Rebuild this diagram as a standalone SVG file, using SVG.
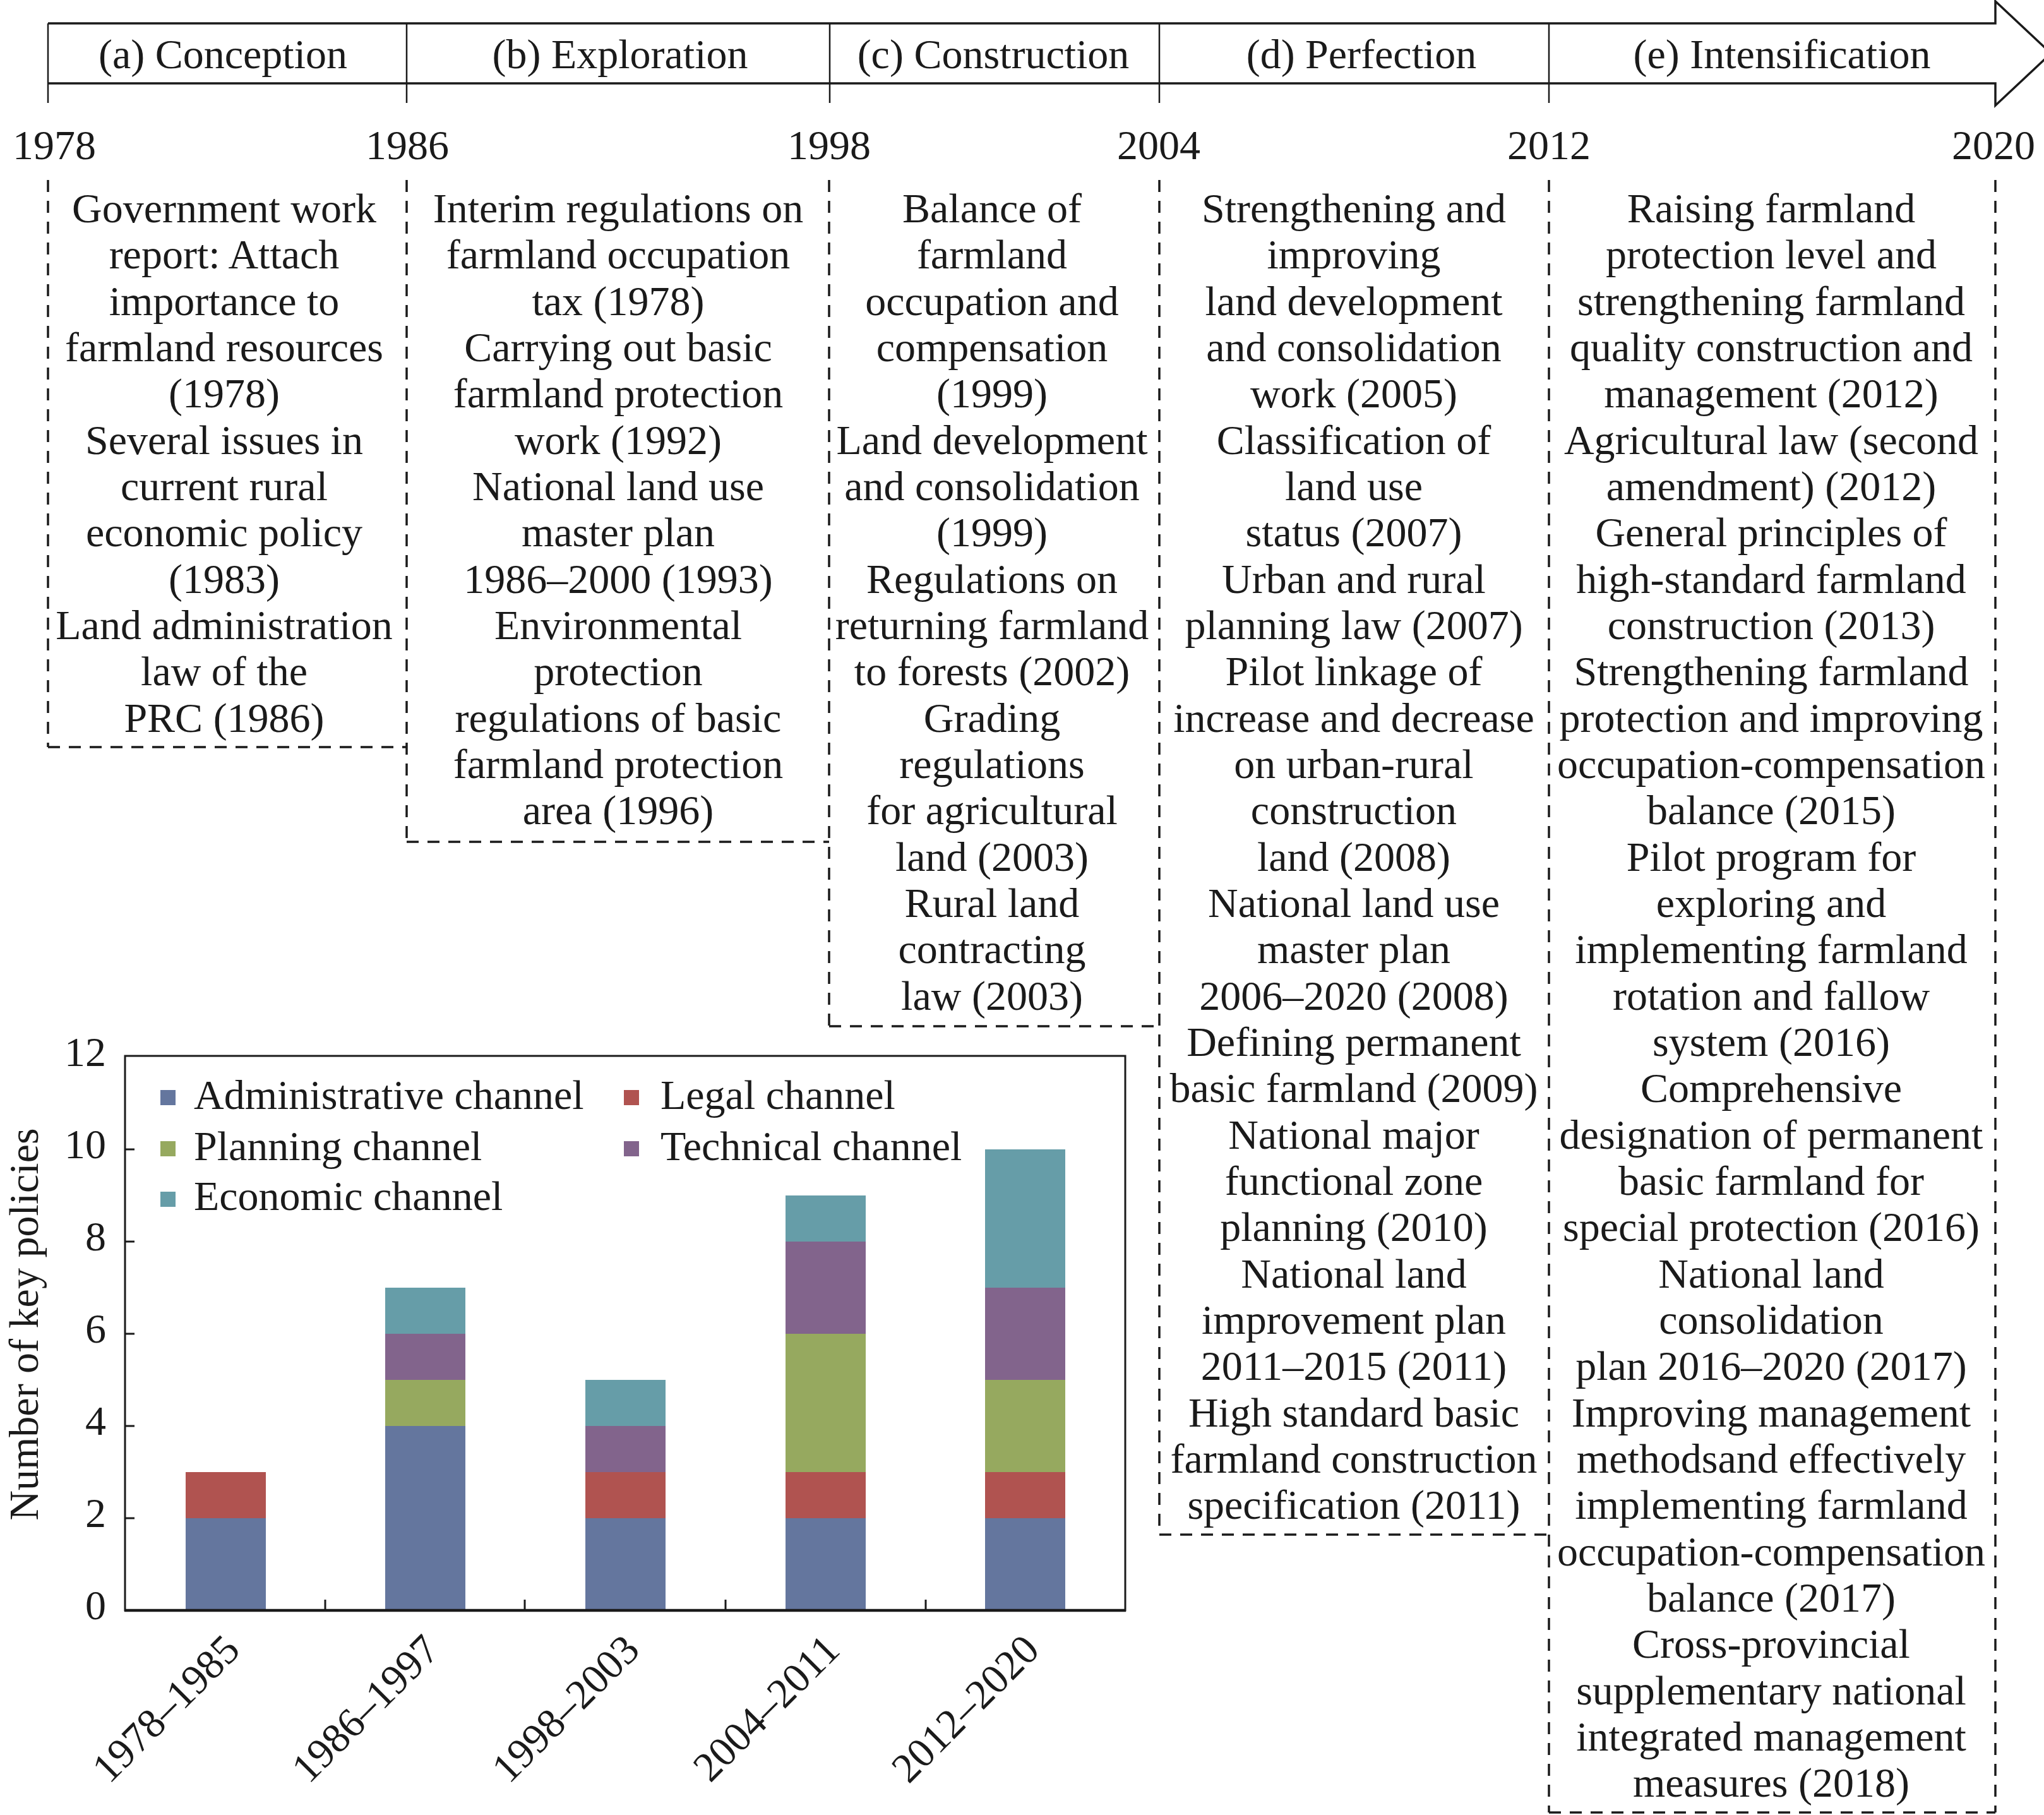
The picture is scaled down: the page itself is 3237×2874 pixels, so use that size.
<svg xmlns="http://www.w3.org/2000/svg" width="3237" height="2874" viewBox="0 0 3237 2874">
<style>
text{font-family:"Liberation Serif","Times New Roman",serif;fill:#1a1a1a}
.t{font-size:66px;text-anchor:middle}
.yl{font-size:66px;text-anchor:end}
.lg{font-size:66px}
.dash{stroke:#1a1a1a;stroke-width:3.5;stroke-dasharray:19 14;fill:none}
.ln{stroke:#1a1a1a;fill:none}
.adm{fill:#64769e}.leg{fill:#b05350}.pla{fill:#96a95f}.tec{fill:#82648c}.eco{fill:#669da8}
</style>
<rect width="3237" height="2874" fill="#ffffff"/>

<g id="timeline">
<path class="ln" stroke-width="3.5" d="M76,37 H3160 V2 L3248,84.5 L3160,167 V132 H76"/>
<g class="ln" stroke-width="2.5">
<line x1="76" y1="37" x2="76" y2="163"/>
<line x1="644" y1="37" x2="644" y2="163"/>
<line x1="1314" y1="37" x2="1314" y2="163"/>
<line x1="1836" y1="37" x2="1836" y2="163"/>
<line x1="2453" y1="37" x2="2453" y2="163"/>
</g>
<text class="t" x="353" y="108">(a) Conception</text>
<text class="t" x="982" y="108">(b) Exploration</text>
<text class="t" x="1573" y="108">(c) Construction</text>
<text class="t" x="2156" y="108">(d) Perfection</text>
<text class="t" x="2822" y="108">(e) Intensification</text>
<text class="t" x="86" y="252">1978</text>
<text class="t" x="645" y="252">1986</text>
<text class="t" x="1313" y="252">1998</text>
<text class="t" x="1835" y="252">2004</text>
<text class="t" x="2453" y="252">2012</text>
<text class="t" x="3157" y="252">2020</text>
</g>

<g id="connectors">
<line class="dash" x1="76" y1="285" x2="76" y2="1183"/>
<line class="dash" x1="644" y1="285" x2="644" y2="1333"/>
<line class="dash" x1="1313" y1="285" x2="1313" y2="1625"/>
<line class="dash" x1="1836" y1="285" x2="1836" y2="2430"/>
<line class="dash" x1="2453" y1="285" x2="2453" y2="2870"/>
<line class="dash" x1="3160" y1="285" x2="3160" y2="2870"/>
<line class="dash" x1="76" y1="1183" x2="644" y2="1183"/>
<line class="dash" x1="644" y1="1333" x2="1313" y2="1333"/>
<line class="dash" x1="1313" y1="1625" x2="1836" y2="1625"/>
<line class="dash" x1="1836" y1="2430" x2="2453" y2="2430"/>
<line class="dash" x1="2453" y1="2870" x2="3160" y2="2870"/>
</g>

<g id="col-a">
<text class="t" y="352"><tspan x="355">Government work</tspan><tspan
 x="355" dy="73.33">report: Attach</tspan><tspan
 x="355" dy="73.33">importance to</tspan><tspan
 x="355" dy="73.33">farmland resources</tspan><tspan
 x="355" dy="73.33">(1978)</tspan><tspan
 x="355" dy="73.33">Several issues in</tspan><tspan
 x="355" dy="73.33">current rural</tspan><tspan
 x="355" dy="73.33">economic policy</tspan><tspan
 x="355" dy="73.33">(1983)</tspan><tspan
 x="355" dy="73.33">Land administration</tspan><tspan
 x="355" dy="73.33">law of the</tspan><tspan
 x="355" dy="73.33">PRC (1986)</tspan></text>
</g>

<g id="col-b">
<text class="t" y="352"><tspan x="979">Interim regulations on</tspan><tspan
 x="979" dy="73.33">farmland occupation</tspan><tspan
 x="979" dy="73.33">tax (1978)</tspan><tspan
 x="979" dy="73.33">Carrying out basic</tspan><tspan
 x="979" dy="73.33">farmland protection</tspan><tspan
 x="979" dy="73.33">work (1992)</tspan><tspan
 x="979" dy="73.33">National land use</tspan><tspan
 x="979" dy="73.33">master plan</tspan><tspan
 x="979" dy="73.33">1986–2000 (1993)</tspan><tspan
 x="979" dy="73.33">Environmental</tspan><tspan
 x="979" dy="73.33">protection</tspan><tspan
 x="979" dy="73.33">regulations of basic</tspan><tspan
 x="979" dy="73.33">farmland protection</tspan><tspan
 x="979" dy="73.33">area (1996)</tspan></text>
</g>

<g id="col-c">
<text class="t" y="352"><tspan x="1571">Balance of</tspan><tspan
 x="1571" dy="73.33">farmland</tspan><tspan
 x="1571" dy="73.33">occupation and</tspan><tspan
 x="1571" dy="73.33">compensation</tspan><tspan
 x="1571" dy="73.33">(1999)</tspan><tspan
 x="1571" dy="73.33">Land development</tspan><tspan
 x="1571" dy="73.33">and consolidation</tspan><tspan
 x="1571" dy="73.33">(1999)</tspan><tspan
 x="1571" dy="73.33">Regulations on</tspan><tspan
 x="1571" dy="73.33">returning farmland</tspan><tspan
 x="1571" dy="73.33">to forests (2002)</tspan><tspan
 x="1571" dy="73.33">Grading</tspan><tspan
 x="1571" dy="73.33">regulations</tspan><tspan
 x="1571" dy="73.33">for agricultural</tspan><tspan
 x="1571" dy="73.33">land (2003)</tspan><tspan
 x="1571" dy="73.33">Rural land</tspan><tspan
 x="1571" dy="73.33">contracting</tspan><tspan
 x="1571" dy="73.33">law (2003)</tspan></text>
</g>

<g id="col-d">
<text class="t" y="352"><tspan x="2144">Strengthening and</tspan><tspan
 x="2144" dy="73.33">improving</tspan><tspan
 x="2144" dy="73.33">land development</tspan><tspan
 x="2144" dy="73.33">and consolidation</tspan><tspan
 x="2144" dy="73.33">work (2005)</tspan><tspan
 x="2144" dy="73.33">Classification of</tspan><tspan
 x="2144" dy="73.33">land use</tspan><tspan
 x="2144" dy="73.33">status (2007)</tspan><tspan
 x="2144" dy="73.33">Urban and rural</tspan><tspan
 x="2144" dy="73.33">planning law (2007)</tspan><tspan
 x="2144" dy="73.33">Pilot linkage of</tspan><tspan
 x="2144" dy="73.33">increase and decrease</tspan><tspan
 x="2144" dy="73.33">on urban-rural</tspan><tspan
 x="2144" dy="73.33">construction</tspan><tspan
 x="2144" dy="73.33">land (2008)</tspan><tspan
 x="2144" dy="73.33">National land use</tspan><tspan
 x="2144" dy="73.33">master plan</tspan><tspan
 x="2144" dy="73.33">2006–2020 (2008)</tspan><tspan
 x="2144" dy="73.33">Defining permanent</tspan><tspan
 x="2144" dy="73.33">basic farmland (2009)</tspan><tspan
 x="2144" dy="73.33">National major</tspan><tspan
 x="2144" dy="73.33">functional zone</tspan><tspan
 x="2144" dy="73.33">planning (2010)</tspan><tspan
 x="2144" dy="73.33">National land</tspan><tspan
 x="2144" dy="73.33">improvement plan</tspan><tspan
 x="2144" dy="73.33">2011–2015 (2011)</tspan><tspan
 x="2144" dy="73.33">High standard basic</tspan><tspan
 x="2144" dy="73.33">farmland construction</tspan><tspan
 x="2144" dy="73.33">specification (2011)</tspan></text>
</g>

<g id="col-e">
<text class="t" y="352"><tspan x="2805">Raising farmland</tspan><tspan
 x="2805" dy="73.33">protection level and</tspan><tspan
 x="2805" dy="73.33">strengthening farmland</tspan><tspan
 x="2805" dy="73.33">quality construction and</tspan><tspan
 x="2805" dy="73.33">management (2012)</tspan><tspan
 x="2805" dy="73.33">Agricultural law (second</tspan><tspan
 x="2805" dy="73.33">amendment) (2012)</tspan><tspan
 x="2805" dy="73.33">General principles of</tspan><tspan
 x="2805" dy="73.33">high-standard farmland</tspan><tspan
 x="2805" dy="73.33">construction (2013)</tspan><tspan
 x="2805" dy="73.33">Strengthening farmland</tspan><tspan
 x="2805" dy="73.33">protection and improving</tspan><tspan
 x="2805" dy="73.33">occupation-compensation</tspan><tspan
 x="2805" dy="73.33">balance (2015)</tspan><tspan
 x="2805" dy="73.33">Pilot program for</tspan><tspan
 x="2805" dy="73.33">exploring and</tspan><tspan
 x="2805" dy="73.33">implementing farmland</tspan><tspan
 x="2805" dy="73.33">rotation and fallow</tspan><tspan
 x="2805" dy="73.33">system (2016)</tspan><tspan
 x="2805" dy="73.33">Comprehensive</tspan><tspan
 x="2805" dy="73.33">designation of permanent</tspan><tspan
 x="2805" dy="73.33">basic farmland for</tspan><tspan
 x="2805" dy="73.33">special protection (2016)</tspan><tspan
 x="2805" dy="73.33">National land</tspan><tspan
 x="2805" dy="73.33">consolidation</tspan><tspan
 x="2805" dy="73.33">plan 2016–2020 (2017)</tspan><tspan
 x="2805" dy="73.33">Improving management</tspan><tspan
 x="2805" dy="73.33">methodsand effectively</tspan><tspan
 x="2805" dy="73.33">implementing farmland</tspan><tspan
 x="2805" dy="73.33">occupation-compensation</tspan><tspan
 x="2805" dy="73.33">balance (2017)</tspan><tspan
 x="2805" dy="73.33">Cross-provincial</tspan><tspan
 x="2805" dy="73.33">supplementary national</tspan><tspan
 x="2805" dy="73.33">integrated management</tspan><tspan
 x="2805" dy="73.33">measures (2018)</tspan></text>
</g>

<g id="chart">
<g id="bars">
<rect class="adm" x="294" y="2404" width="127" height="146"/>
<rect class="leg" x="294" y="2331" width="127" height="73"/>

<rect class="adm" x="610" y="2258" width="127" height="292"/>
<rect class="pla" x="610" y="2185" width="127" height="73"/>
<rect class="tec" x="610" y="2112" width="127" height="73"/>
<rect class="eco" x="610" y="2039" width="127" height="73"/>

<rect class="adm" x="927" y="2404" width="127" height="146"/>
<rect class="leg" x="927" y="2331" width="127" height="73"/>
<rect class="tec" x="927" y="2258" width="127" height="73"/>
<rect class="eco" x="927" y="2185" width="127" height="73"/>

<rect class="adm" x="1244" y="2404" width="127" height="146"/>
<rect class="leg" x="1244" y="2331" width="127" height="73"/>
<rect class="pla" x="1244" y="2112" width="127" height="219"/>
<rect class="tec" x="1244" y="1966" width="127" height="146"/>
<rect class="eco" x="1244" y="1893" width="127" height="73"/>

<rect class="adm" x="1560" y="2404" width="127" height="146"/>
<rect class="leg" x="1560" y="2331" width="127" height="73"/>
<rect class="pla" x="1560" y="2185" width="127" height="146"/>
<rect class="tec" x="1560" y="2039" width="127" height="146"/>
<rect class="eco" x="1560" y="1820" width="127" height="219"/>
</g>
<rect class="ln" x="198" y="1672" width="1584" height="878" stroke-width="3"/>
<line class="ln" x1="197" y1="2550" x2="1783" y2="2550" stroke-width="4.5"/>
<g class="ln" stroke-width="3">
<line x1="198" y1="2404" x2="213" y2="2404"/>
<line x1="198" y1="2258" x2="213" y2="2258"/>
<line x1="198" y1="2112" x2="213" y2="2112"/>
<line x1="198" y1="1966" x2="213" y2="1966"/>
<line x1="198" y1="1820" x2="213" y2="1820"/>
<line x1="515" y1="2533" x2="515" y2="2550"/>
<line x1="831" y1="2533" x2="831" y2="2550"/>
<line x1="1149" y1="2533" x2="1149" y2="2550"/>
<line x1="1466" y1="2533" x2="1466" y2="2550"/>
</g>
<text class="yl" x="168" y="2564">0</text>
<text class="yl" x="168" y="2418">2</text>
<text class="yl" x="168" y="2272">4</text>
<text class="yl" x="168" y="2126">6</text>
<text class="yl" x="168" y="1980">8</text>
<text class="yl" x="168" y="1834">10</text>
<text class="yl" x="168" y="1688">12</text>
<text class="t" x="60" y="2097" transform="rotate(-90 60 2097)">Number of key policies</text>
<text class="yl" x="383" y="2616" transform="rotate(-45 383 2616)">1978–1985</text>
<text class="yl" x="699" y="2616" transform="rotate(-45 699 2616)">1986–1997</text>
<text class="yl" x="1016" y="2616" transform="rotate(-45 1016 2616)">1998–2003</text>
<text class="yl" x="1333" y="2616" transform="rotate(-45 1333 2616)">2004–2011</text>
<text class="yl" x="1649" y="2616" transform="rotate(-45 1649 2616)">2012–2020</text>
<g id="legend">
<rect class="adm" x="254" y="1726" width="24" height="24"/>
<text class="lg" x="307" y="1756">Administrative channel</text>
<rect class="leg" x="988" y="1726" width="24" height="24"/>
<text class="lg" x="1046" y="1756">Legal channel</text>
<rect class="pla" x="254" y="1807" width="24" height="24"/>
<text class="lg" x="307" y="1837">Planning channel</text>
<rect class="tec" x="988" y="1807" width="24" height="24"/>
<text class="lg" x="1046" y="1837">Technical channel</text>
<rect class="eco" x="254" y="1887" width="24" height="24"/>
<text class="lg" x="307" y="1916">Economic channel</text>
</g>
</g>
</svg>
